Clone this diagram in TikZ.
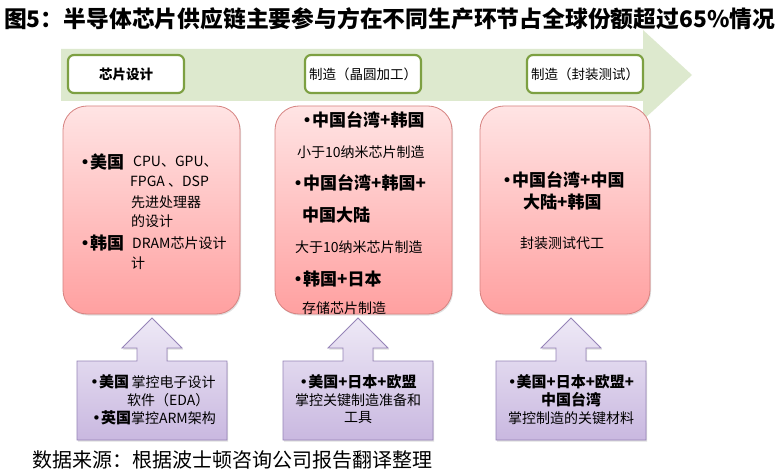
\documentclass[tikz,border=0pt]{standalone}
\usepackage{fontspec}
\setmainfont{Noto Sans CJK SC}
\newfontfamily\dvs{DejaVu Sans}
\usetikzlibrary{shadows}

\definecolor{flowgreen}{RGB}{221,233,206}
\definecolor{stageline}{RGB}{125,160,66}
\definecolor{pinktop}{RGB}{255,228,228}
\definecolor{pinkbot}{RGB}{255,160,160}
\definecolor{pinkline}{RGB}{214,130,128}
\definecolor{lilactop}{RGB}{238,233,246}
\definecolor{lilacbot}{RGB}{201,184,224}
\definecolor{lilacline}{RGB}{150,132,184}

\tikzset{
  stagebox/.style={draw=stageline, line width=2.2pt, rounded corners=6pt,
    fill=white, minimum width=116pt, minimum height=38pt, inner sep=0pt,
    font=\fontsize{13.5}{15}\selectfont},
  pinkbox/.style={draw=pinkline, line width=0.8pt, rounded corners=24pt,
    top color=pinktop, bottom color=pinkbot,
    drop shadow={shadow xshift=1pt, shadow yshift=-1.5pt, opacity=0.25}},
  lilacbox/.style={draw=lilacline, line width=0.8pt,
    top color=lilactop, bottom color=lilacbot,
    drop shadow={shadow xshift=1pt, shadow yshift=-1.5pt, opacity=0.25}},
  txt/.style={inner sep=0pt, anchor=west},
}
\newcommand{\blt}{{\dvs\mdseries •}}
\newcommand{\bd}{\bfseries\fontsize{17}{19}\selectfont}
\newcommand{\rg}{\mdseries\fontsize{14}{16}\selectfont}
\newcommand{\pb}{\bfseries\fontsize{15}{17}\selectfont}
\newcommand{\pr}{\mdseries\fontsize{14}{16}\selectfont}

\begin{document}
\begin{tikzpicture}[x=1pt, y=-1pt]
  \useasboundingbox[fill=white] (0,0) rectangle (777,476);

  % title
  \node[txt] (title) at (4,19)
    {\bfseries\fontsize{22.8}{24}\selectfont 图5：半导体芯片供应链主要参与方在不同生产环节占全球份额超过65\%情况};

  % green flow arrow
  \fill[flowgreen] (61,49) -- (643,49) -- (643,30) -- (692,75)
    -- (643,120) -- (643,101) -- (61,101) -- cycle;

  % stages
  \node[stagebox] (design) at (126,74) {\bfseries 芯片设计};
  \node[stagebox] (wafer)  at (363,74) {制造（晶圆加工）};
  \node[stagebox] (pack)   at (585,74) {制造（封装测试）};

  % pink boxes
  \draw[pinkbox] (63,106) rectangle (240,314);
  \draw[pinkbox] (275,106) rectangle (452,314);
  \draw[pinkbox] (480,106) rectangle (650,314);

  % lilac boxes with up arrows
  \foreach \cx in {152,358,571} {
    \draw[lilacbox] (\cx-75,440) -- (\cx-75,361) -- (\cx-15,361)
      -- (\cx-15,348) -- (\cx-30,348) -- (\cx,318) -- (\cx+30,348)
      -- (\cx+15,348) -- (\cx+15,361) -- (\cx+75,361) -- (\cx+75,440) -- cycle;
  }

  % design box text
  \node[txt] (us1)  at (80,162)  {\bd\blt 美国};
  \node[txt] (us1a) at (133,162) {\rg CPU、GPU、};
  \node[txt] (us1b) at (130,182) {\rg FPGA 、DSP};
  \node[txt] (us1c) at (131,202) {\rg 先进处理器};
  \node[txt] (us1d) at (131,221) {\rg 的设计};
  \node[txt] (kr1)  at (80,243)  {\bd\blt 韩国};
  \node[txt] (kr1a) at (132,243) {\rg DRAM芯片设计};
  \node[txt] (kr1b) at (131,263) {\rg 计};

  % wafer box text
  \node[txt] (fab1)  at (302,120) {\bd\blt 中国台湾+韩国};
  \node[txt] (fab1a) at (297,152) {\rg 小于10纳米芯片制造};
  \node[txt] (fab2)  at (293,183) {\bd\blt 中国台湾+韩国+};
  \node[txt] (fab2b) at (302,215) {\bd 中国大陆};
  \node[txt] (fab2a) at (295,247) {\rg 大于10纳米芯片制造};
  \node[txt] (fab3)  at (293,279) {\bd\blt 韩国+日本};
  \node[txt] (fab3a) at (302,308) {\rg 存储芯片制造};

  % packaging box text
  \node[txt] (osat)  at (502,180) {\bd\blt 中国台湾+中国};
  \node[txt] (osatb) at (523,202) {\bd 大陆+韩国};
  \node[txt] (osata) at (520,243) {\rg 封装测试代工};

  % lilac texts
  \node[txt] (eda)   at (90,382)  {\pb\blt 美国\,\pr 掌控电子设计};
  \node[txt] (edab)  at (127,400) {\pr 软件（EDA）};
  \node[txt] (arm)   at (92,418)  {\pb\blt 英国\pr 掌控ARM架构};
  \node (tool)  at (358,382) {\pb\blt 美国+日本+欧盟};
  \node (toola) at (358,400) {\pr 掌控关键制造准备和};
  \node (toolb) at (358,418) {\pr 工具};
  \node (mat)   at (571,382) {\pb\blt 美国+日本+欧盟+};
  \node (matb)  at (571,400) {\pb 中国台湾};
  \node (mata)  at (571,418) {\pr 掌控制造的关键材料};

  % source
  \node[txt] (src) at (32,460) {\fontsize{20}{22}\selectfont 数据来源：根据波士顿咨询公司报告翻译整理};
\end{tikzpicture}
\end{document}
